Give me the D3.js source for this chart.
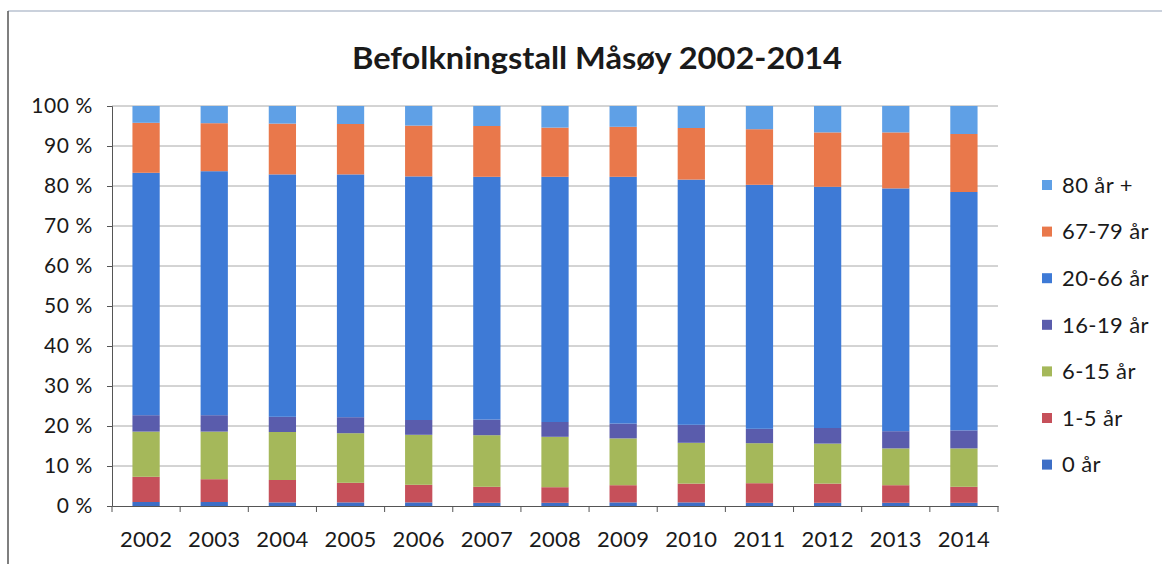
<!DOCTYPE html>
<html>
<head>
<meta charset="utf-8">
<script src="https://cdn.jsdelivr.net/npm/d3@7"></script>
<style>
  body { margin: 0; background: #fff; }
  text { font-family: Lato, "Open Sans", sans-serif; fill: #1a1a1a; }
</style>
</head>
<body>
<script>
// age groups, bottom to top
var groups = ["0 år", "1-5 år", "6-15 år", "16-19 år", "20-66 år", "67-79 år", "80 år +"];
var years = ["2002", "2003", "2004", "2005", "2006", "2007", "2008",
             "2009", "2010", "2011", "2012", "2013", "2014"];

// share of population (%)
var age0     = [1.0, 1.0, 0.9, 0.9, 0.9, 0.8, 0.8, 0.9, 0.9, 0.8, 0.8, 0.8, 0.8];
var age1_5   = [6.3, 5.7, 5.6, 4.9, 4.4, 4.0, 3.9, 4.3, 4.7, 4.9, 4.8, 4.4, 4.0];
var age6_15  = [11.3, 11.9, 12.0, 12.4, 12.5, 12.9, 12.6, 11.7, 10.2, 10.0, 10.0, 9.2, 9.6];
var age16_19 = [4.1, 4.1, 3.8, 4.0, 3.7, 3.9, 3.7, 3.7, 4.5, 3.6, 3.9, 4.3, 4.5];
var age20_66 = [60.6, 61.0, 60.6, 60.7, 60.9, 60.7, 61.3, 61.7, 61.3, 61.0, 60.3, 60.7, 59.6];
var age67_79 = [12.5, 12.0, 12.7, 12.6, 12.7, 12.7, 12.3, 12.5, 12.9, 13.9, 13.6, 14.0, 14.5];
var age80    = [4.2, 4.3, 4.4, 4.5, 4.9, 5.0, 5.4, 5.2, 5.5, 5.8, 6.6, 6.6, 7.0];

var yTicks = [0, 10, 20, 30, 40, 50, 60, 70, 80, 90, 100];
var colors = ["#3d6ec6", "#c6505a", "#a5b85a", "#5a5cac", "#3e7ad6", "#e9784b", "#5fa0e6"];

function main() {
    var series = [age0, age1_5, age6_15, age16_19, age20_66, age67_79, age80];
    var rows = years.map(function(y, i) {
        var r = { year: y };
        groups.forEach(function(g, k) { r[g] = series[k][i]; });
        return r;
    });

    var width = 1162, height = 564;
    var left = 112, right = 998, top = 106, bottom = 506;

    var svg = d3.select("body").append("svg")
        .attr("width", width).attr("height", height);

    // scanned page frame
    svg.append("line").attr("x1", 8).attr("x2", 1162).attr("y1", 11).attr("y2", 11)
        .attr("stroke", "#b8c2d0").attr("stroke-width", 1.5);
    svg.append("line").attr("x1", 8).attr("x2", 8).attr("y1", 11).attr("y2", 564)
        .attr("stroke", "#555").attr("stroke-width", 1.5);

    var x = d3.scaleBand().domain(years).range([left, right]).paddingInner(0.6).paddingOuter(0.3);
    var y = d3.scaleLinear().domain([0, 100]).range([bottom, top]);

    // gridlines
    svg.append("g").selectAll("line")
        .data(yTicks.slice(1))
        .enter().append("line")
        .attr("x1", left).attr("x2", right)
        .attr("y1", function(d) { return y(d); })
        .attr("y2", function(d) { return y(d); })
        .attr("stroke", "#a8a8a8").attr("stroke-width", 1);

    var stack = d3.stack().keys(groups).offset(d3.stackOffsetExpand);
    var layers = stack(rows);

    svg.append("g").selectAll("g")
        .data(layers)
        .enter().append("g")
        .attr("fill", function(d, i) { return colors[i]; })
        .selectAll("rect")
        .data(function(d) { return d; })
        .enter().append("rect")
        .attr("x", function(d) { return x(d.data.year); })
        .attr("width", x.bandwidth())
        .attr("y", function(d) { return y(d[1] * 100); })
        .attr("height", function(d) { return y(d[0] * 100) - y(d[1] * 100); });

    // y axis
    var yAxis = d3.axisLeft(y).tickValues(yTicks)
        .tickFormat(function(d) { return d + " %"; })
        .tickSize(5).tickPadding(14);
    var gy = svg.append("g").attr("transform", "translate(" + left + ",0)").call(yAxis);
    gy.select(".domain").attr("stroke", "#555");
    gy.selectAll(".tick line").attr("stroke", "#555");
    gy.selectAll("text").attr("font-size", "21px").attr("fill", "#1a1a1a")
        .attr("letter-spacing", "0.6px");

    // x axis with ticks between categories
    var xAxis = d3.axisBottom(x).tickSize(0).tickPadding(25);
    var gx = svg.append("g").attr("transform", "translate(0," + bottom + ")").call(xAxis);
    gx.select(".domain").attr("stroke", "#555");
    gx.selectAll("text").attr("font-size", "22px").attr("fill", "#1a1a1a")
        .attr("letter-spacing", "0.3px");
    gx.selectAll(".sep")
        .data(d3.range(years.length + 1))
        .enter().append("line")
        .attr("x1", function(i) { return left + i * (right - left) / years.length; })
        .attr("x2", function(i) { return left + i * (right - left) / years.length; })
        .attr("y1", 0).attr("y2", 6)
        .attr("stroke", "#555");

    // title
    svg.append("text")
        .attr("x", 597).attr("y", 69)
        .attr("text-anchor", "middle")
        .attr("font-size", "30px").attr("font-weight", "bold")
        .attr("fill", "#1a1a1a")
        .attr("textLength", 490).attr("lengthAdjust", "spacingAndGlyphs")
        .text("Befolkningstall Måsøy 2002-2014");

    // legend, top entry = last series
    var legend = svg.append("g").selectAll("g")
        .data(groups.slice().reverse())
        .enter().append("g")
        .attr("transform", function(d, i) { return "translate(1042," + (185 + i * 46.6) + ")"; });
    legend.append("rect")
        .attr("x", 0).attr("y", -5).attr("width", 10).attr("height", 10)
        .attr("fill", function(d) { return colors[groups.indexOf(d)]; });
    legend.append("text")
        .attr("x", 20).attr("y", 0).attr("dy", "0.35em")
        .attr("font-size", "22px").attr("letter-spacing", "0.4px")
        .attr("fill", "#1a1a1a")
        .text(function(d) { return d; });
}

window.onload = main;
</script>
</body>
</html>
